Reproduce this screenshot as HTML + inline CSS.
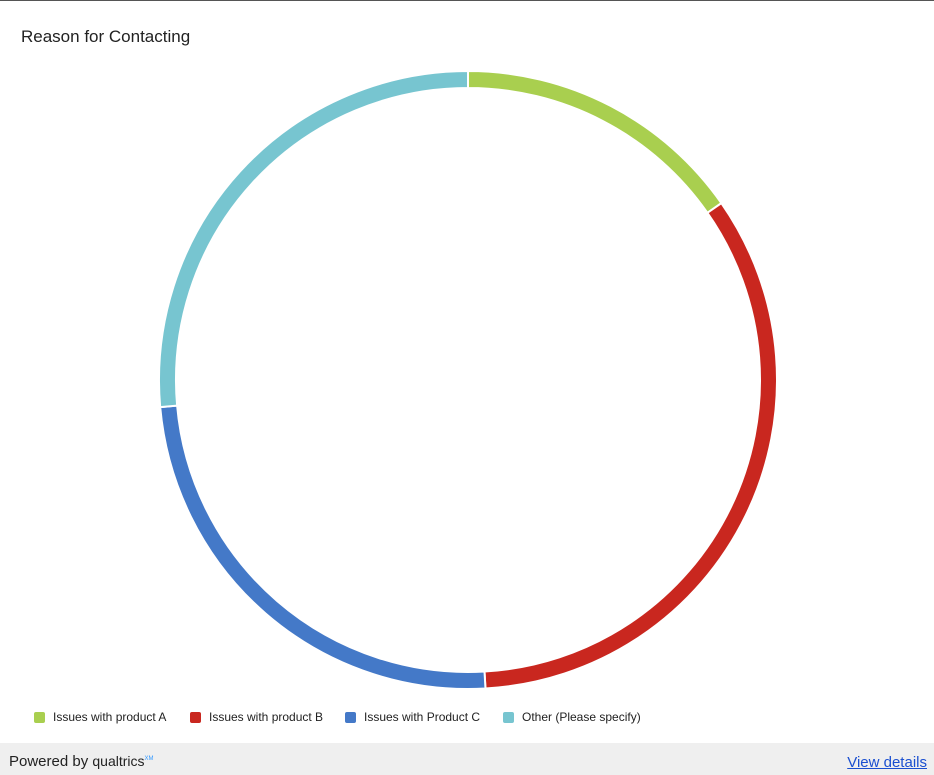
<!DOCTYPE html>
<html><head><meta charset="utf-8"><style>
body{margin:0;width:934px;height:775px;background:#fff;font-family:"Liberation Sans",sans-serif;position:relative;overflow:hidden}
#top{position:absolute;left:0;top:0;width:934px;height:1px;background:#555}
#title{position:absolute;left:21px;top:27px;font-size:17px;color:#222}
#legend{position:absolute;left:0;top:710px;font-size:12px;color:#222;width:934px;height:16px}
.li{display:flex;align-items:center;position:absolute;top:0}
.sw{width:11px;height:11px;border-radius:2px;margin-right:8px}
#footer{position:absolute;left:0;top:743px;width:934px;height:32px;background:#efefef;font-size:15px}
#pb{position:absolute;left:9px;top:10px;color:#222}
#vd{position:absolute;right:7px;top:11px;color:#1a4fd0;text-decoration:underline}
</style></head><body>
<div id="top"></div>
<div id="title">Reason for Contacting</div>
<svg id="chart" width="934" height="700" style="position:absolute;left:0;top:0"></svg>
<div id="legend"></div>
<div id="footer">
<span id="pb">Powered by <span style="font-family:'Liberation Sans Narrow','Liberation Sans',sans-serif;font-size:14px">qualtrics</span><sup style="font-size:6px;color:#39f">XM</sup></span>
<a id="vd">View details</a>
</div>
<script>
const categories=["Issues with product A","Issues with product B","Issues with Product C","Other (Please specify)"];
const values=[15.3,33.8,24.5,26.4];
const colors=["#a9cf4f","#c9271f","#4479c8","#77c5d0"];
const legendX=[34,190,345,503];
const cx=468,cy=380,ro=309,ri=292;
const svg=document.getElementById('chart');
const total=values.reduce((a,b)=>a+b,0);
function pt(r,a){return [cx+r*Math.sin(a),cy-r*Math.cos(a)];}
let start=0;
values.forEach((v,i)=>{
  const end=start+v/total*2*Math.PI;
  const large=(end-start)>Math.PI?1:0;
  const [x1,y1]=pt(ro,start),[x2,y2]=pt(ro,end),[x3,y3]=pt(ri,end),[x4,y4]=pt(ri,start);
  const p=document.createElementNS('http://www.w3.org/2000/svg','path');
  p.setAttribute('d',`M${x1},${y1}A${ro},${ro} 0 ${large} 1 ${x2},${y2}L${x3},${y3}A${ri},${ri} 0 ${large} 0 ${x4},${y4}Z`);
  p.setAttribute('fill',colors[i]);p.setAttribute('stroke','#fff');p.setAttribute('stroke-width','2');
  
  
  svg.appendChild(p);
  start=end;
});
const lg=document.getElementById('legend');
categories.forEach((c,i)=>{
  const d=document.createElement('div');d.className='li';
  d.style.left=legendX[i]+'px';
  
  
  d.innerHTML=`<span class="sw" style="background:${colors[i]}"></span>${c}`;
  lg.appendChild(d);
});
</script>
</body></html>
